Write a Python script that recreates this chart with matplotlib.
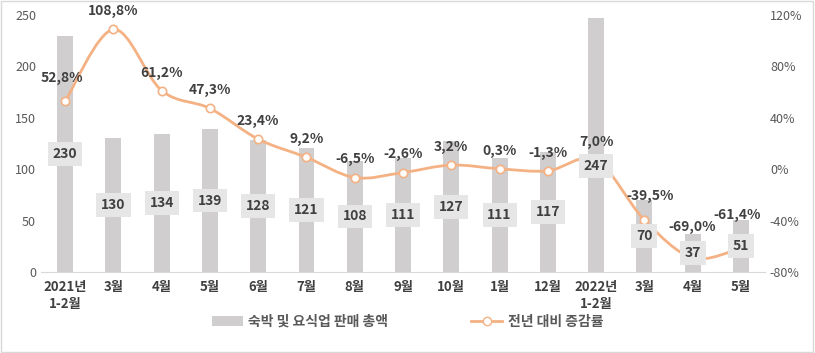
import matplotlib.pyplot as plt
import numpy as np
from matplotlib.path import Path
from matplotlib.patches import PathPatch, Rectangle

plt.rcParams['font.family'] = ['Noto Sans CJK KR', 'DejaVu Sans']

months = ['2021년\n1-2월', '3월', '4월', '5월', '6월', '7월', '8월', '9월',
          '10월', '1월', '12월', '2022년\n1-2월', '3월', '4월', '5월']
sales = [230, 130, 134, 139, 128, 121, 108, 111, 127, 111, 117, 247, 70, 37, 51]
growth = [52.8, 108.8, 61.2, 47.3, 23.4, 9.2, -6.5, -2.6, 3.2, 0.3, -1.3, 7.0,
          -39.5, -69.0, -61.4]

bar_col = '#d0cece'
line_col = '#f4b183'
txt_col = '#404040'
tick_col = '#595959'

fig = plt.figure(figsize=(8.15, 3.53), dpi=100)
ax = fig.add_axes([0.0503, 0.2295, 0.8884, 0.728])
ax2 = ax.twinx()

x = np.arange(len(months))
ax.bar(x, sales, width=0.33, color=bar_col, zorder=1)
ax.set_xlim(-0.5, len(months) - 0.5)
ax.set_ylim(0, 250)
ax.set_yticks(np.arange(0, 251, 50))
ax2.set_ylim(-80, 120)
ax2.set_yticks(np.arange(-80, 121, 40))
ax2.set_yticklabels([f'{v}%' for v in range(-80, 121, 40)])

# smooth line (catmull-rom -> bezier)
g = np.array(growth)
pts = np.column_stack([x, g])
verts = [tuple(pts[0])]
codes = [Path.MOVETO]
for i in range(len(pts) - 1):
    p0 = pts[max(i - 1, 0)]
    p1 = pts[i]
    p2 = pts[i + 1]
    p3 = pts[min(i + 2, len(pts) - 1)]
    c1 = p1 + (p2 - p0) / 6
    c2 = p2 - (p3 - p1) / 6
    verts += [tuple(c1), tuple(c2), tuple(p2)]
    codes += [Path.CURVE4] * 3
ax2.add_patch(PathPatch(Path(verts, codes), fill=False, edgecolor=line_col,
                        lw=2, zorder=2))
ax2.plot(x, g, 'o', color=line_col, mfc='white', mew=1.2, ms=6, zorder=3)

for a in (ax, ax2):
    for s in a.spines.values():
        s.set_visible(False)
    a.tick_params(length=0, labelsize=9, labelcolor=tick_col)
ax.spines['bottom'].set_visible(True)
ax.spines['bottom'].set_color('#d9d9d9')
ax.set_xticks(x)
ax.set_xticklabels(months, fontsize=9.5, color=txt_col, fontweight='bold')
ax.tick_params(axis='x', pad=6)

ax.set_zorder(0)
ax2.set_zorder(1)
ax2.patch.set_visible(False)

# bar value labels (centred in bar, drawn over the line)
for i, v in enumerate(sales):
    ymid = ax2.transData.inverted().transform(ax.transData.transform((i, v / 2)))[1]
    dy = -15 if i == 11 else 0
    ax2.annotate(str(v), xy=(i, ymid), xytext=(0, dy), textcoords='offset points',
                 ha='center', va='center', fontsize=10, fontweight='bold',
                 color=txt_col, zorder=5,
                 bbox=dict(boxstyle='square,pad=0.35', fc='#e7e6e6', ec='none'))

extra = {0: (-2, 4), 12: (4, 4), 13: (0, 9), 14: (-3, 11)}
for i, v in enumerate(growth):
    dx, dy = extra.get(i, (0, 0))
    ax2.annotate(f'{v:.1f}%'.replace('.', ','), xy=(i, v), xytext=(dx, 13 + dy),
                 textcoords='offset points', ha='center', va='center',
                 fontsize=10, fontweight='bold', color=txt_col, zorder=4)

h1 = Rectangle((0, 0), 1, 1, fc=bar_col)
h2, = ax2.plot([], [], '-o', color=line_col, mfc='white', lw=2, ms=6)
leg = fig.legend([h1, h2], ['숙박 및 요식업 판매 총액', '전년 대비 증감률'],
                 loc='center', bbox_to_anchor=(0.5, 0.088), ncol=2,
                 frameon=False, fontsize=10, columnspacing=6, handlelength=2.2,
                 handletextpad=0.4)
for t in leg.get_texts():
    t.set_color(tick_col)
    t.set_fontweight('bold')

fig.add_artist(Rectangle((0.001, 0.002), 0.997, 0.995, transform=fig.transFigure,
                         fill=False, ec='#d9d9d9', lw=1))

fig.savefig('out.png', dpi=100)
